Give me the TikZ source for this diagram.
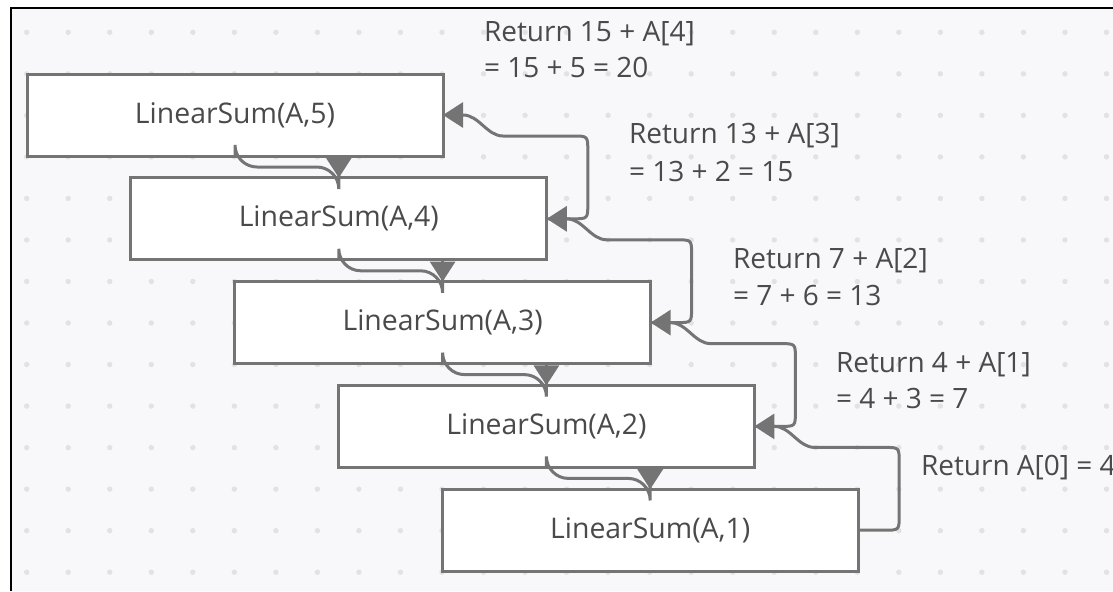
\documentclass[tikz,border=0pt]{standalone}
\usepackage{fontspec}
\setmainfont{Open Sans}
\usetikzlibrary{arrows.meta,calc}
\definecolor{bgc}{HTML}{F8F8FA}
\definecolor{dotc}{HTML}{E2E2E6}
\definecolor{linec}{HTML}{747474}
\definecolor{txtc}{HTML}{4A4A4A}
\tikzset{
  box/.style={draw=linec, line width=1.5pt, fill=white, minimum width=208pt, minimum height=41pt,
    inner sep=0pt, outer sep=0pt, text=txtc, font=\fontsize{14.2}{17}\selectfont},
  lbl/.style={anchor=base west, inner sep=0pt, outer sep=0pt, text=txtc, font=\fontsize{14}{17}\selectfont},
  conn/.style={draw=linec, line width=1.5pt},
  tipl/.style={-{Triangle[length=10pt,width=12.5pt]}}
}
\begin{document}
\begin{tikzpicture}[x=0.5pt, y=-0.5pt]
\useasboundingbox (0,0) rectangle (1113,591);
\fill[white] (0,0) rectangle (1113,591);
\fill[bgc] (11,7.5) rectangle (1113,591);
\draw[black, line width=1pt] (11,591) -- (11,7.5) -- (1113,7.5);
\foreach \i in {0,...,26} {
  \foreach \j in {0,...,13} {
    \fill[dotc] ({26.7+41.53*\i},{32.3+41.53*\j}) circle (2.7);
  }
}
% boxes
\node[box] (n5) at (235,115) {LinearSum(A,5)};
\node[box] (n4) at (338.8,218.8) {LinearSum(A,4)};
\node[box] (n3) at (442.6,322.6) {LinearSum(A,3)};
\node[box] (n2) at (546.4,426.4) {LinearSum(A,2)};
\node[box] (n1) at (650.2,530.2) {LinearSum(A,1)};
% labels
\node[lbl] (r5a) at (484,41) {Return 15 + A[4]};
\node[lbl] (r5b) at (484,77.5) {= 15 + 5 = 20};
\node[lbl] (r4a) at (629,143.5) {Return 13 + A[3]};
\node[lbl] (r4b) at (629,181) {= 13 + 2 = 15};
\node[lbl] (r3a) at (733,268) {Return 7 + A[2]};
\node[lbl] (r3b) at (733,305) {= 7 + 6 = 13};
\node[lbl] (r2a) at (836,372) {Return 4 + A[1]};
\node[lbl] (r2b) at (836,408) {= 4 + 3 = 7};
\node[lbl] (r1a) at (921,475) {Return A[0] = 4};
% call connectors (down)
\foreach \u/\l in {5/4,4/3,3/2,2/1} {
  \draw[conn, rounded corners=11] (n\u.south) -- ++(0,11) -| ($(n\l.north)+(0,-3)$);
  \draw[conn, tipl] ($(n\l.north)+(0,-21)$) -- (n\l.north);
}
% return connectors (up)
\foreach \l/\u in {4/5,3/4,2/3,1/2} {
  \draw[conn, tipl] (n\l.east) -- ($(n\l.east)+(26,0)$)
    .. controls ($(n\l.east)+(41,0)$) .. ($(n\l.east)+(41,-15)$)
    -- ($(n\u.east)+(144.8,36)$)
    .. controls ($(n\u.east)+(144.8,21)$) .. ($(n\u.east)+(129.8,21)$)
    -- ($(n\u.east)+(60,21)$)
    .. controls ($(n\u.east)+(44,21)$) and ($(n\u.east)+(36,0)$) .. ($(n\u.east)+(20,0)$)
    -- (n\u.east);
}
\end{tikzpicture}
\end{document}
